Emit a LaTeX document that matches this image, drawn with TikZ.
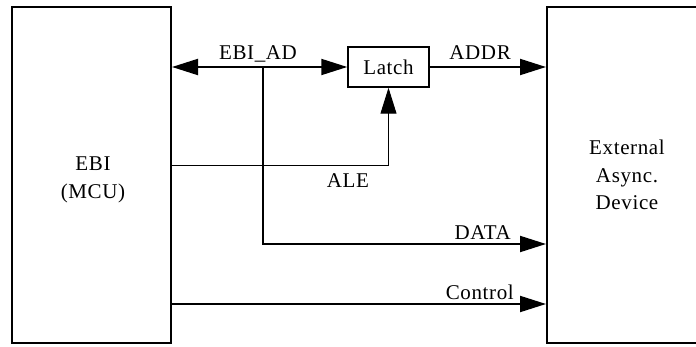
\documentclass[tikz,border=0pt]{standalone}
\usepackage{fontspec}
\setmainfont{Liberation Serif}[LetterSpace=3]
\usetikzlibrary{arrows.meta}
\begin{document}
\begin{tikzpicture}[x=1pt,y=-1pt,
  font=\fontsize{21}{27.5}\selectfont,
  blk/.style={draw, line width=2pt, inner sep=0pt, align=center},
  sig/.style={line width=2pt},
  thin sig/.style={line width=1pt},
  tip/.style={-{Triangle[length=26pt,width=16pt]}},
  lbl/.style={inner sep=0pt, anchor=base}]
\useasboundingbox (0,0) rectangle (696,347);
\node[blk, minimum width=159pt, minimum height=336pt] (ebi) at (91.5,175) {};
\node[inner sep=0pt, align=center] (ebitxt) at (93,180) {EBI\\(MCU)};
\node[blk, minimum width=160pt, minimum height=336pt] (dev) at (627,175) {External\\Async.\\Device};
\node[blk, line width=1.5pt, minimum width=81pt, minimum height=40pt] (latch) at (388.5,67) {Latch};
\coordinate (j) at (263,67);
\coordinate (ydata) at (0,244);
\coordinate (yale) at (0,166);
\coordinate (yctl) at (0,304);
% EBI_AD bus
\draw[sig, {Triangle[length=26pt,width=16pt]}-{Triangle[length=26pt,width=16pt]}] (ebi.east |- latch.west) -- (latch.west);
\node[lbl] (lad) at (258,60) {EBI\_AD};
% ADDR
\draw[sig, tip] (latch.east) -- (latch.east -| dev.west);
\node[lbl, anchor=base east] (laddr) at (511,60) {ADDR};
% DATA
\draw[sig, tip] (j) |- (dev.west |- ydata);
\node[lbl, anchor=base east] (ldata) at (511,240) {DATA};
% ALE
\draw[thin sig, tip] (ebi.east |- yale) -| (latch.south);
\node[lbl] (lale) at (348,188) {ALE};
% Control
\draw[sig, tip] (ebi.east |- yctl) -- (dev.west |- yctl);
\node[lbl, anchor=base east] (lctl) at (514,300) {Control};
\end{tikzpicture}
\end{document}
